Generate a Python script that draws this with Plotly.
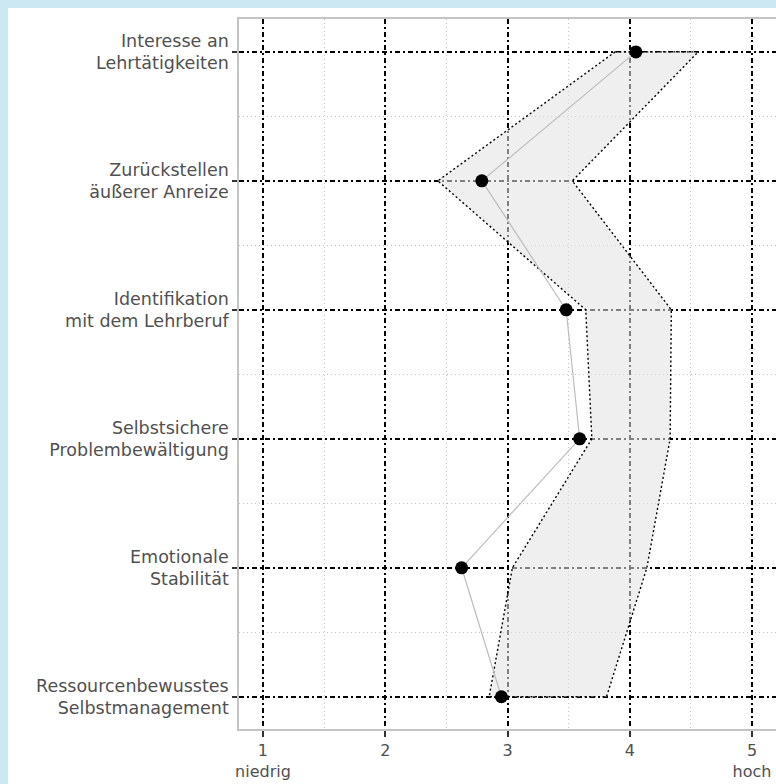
import plotly.graph_objects as go

# ---- data ----
categories = [
    "Interesse an<br>Lehrtätigkeiten",
    "Zurückstellen<br>äußerer Anreize",
    "Identifikation<br>mit dem Lehrberuf",
    "Selbstsichere<br>Problembewältigung",
    "Emotionale<br>Stabilität",
    "Ressourcenbewusstes<br>Selbstmanagement",
]
positions = [1, 2, 3, 4, 5, 6]
person_values = [4.05, 2.79, 3.48, 3.59, 2.625, 2.95]
band_lower = [3.88, 2.43, 3.64, 3.69, 3.04, 2.85]
band_upper = [4.56, 3.53, 4.34, 4.33, 4.14, 3.81]
x_tickvals = [1, 2, 3, 4, 5]
x_ticktext = ["1<br>niedrig", "2", "3", "4", "5<br>hoch"]
minor_x = [1.5, 2.5, 3.5, 4.5]
minor_y = [1.5, 2.5, 3.5, 4.5, 5.5]

# ---- layout geometry (figure sits inside the page's 8px body margin) ----
W, H = 768, 776
ML, MR, MT, MB = 231, 0, 11, 55

font_family = "DejaVu Sans, Liberation Sans, Arial, sans-serif"
text_color = "#505050"
grid_dash = "5px,3px,2px,3px"
page_bg = "#cce8f2"

fig = go.Figure()

# band polygon
poly_x = band_lower + band_upper[::-1] + [band_lower[0]]
poly_y = positions + positions[::-1] + [positions[0]]
fig.add_trace(go.Scatter(
    x=poly_x, y=poly_y, mode="lines", fill="toself",
    fillcolor="rgba(226,226,226,0.56)",
    line=dict(color="black", width=1.4, dash="2px,2.5px"),
    hoverinfo="skip", showlegend=False,
))

# profile line
fig.add_trace(go.Scatter(
    x=person_values, y=positions, mode="lines",
    line=dict(color="#bdbdbd", width=1.2),
    showlegend=False,
))

# points
fig.add_trace(go.Scatter(
    x=person_values, y=positions, mode="markers",
    marker=dict(color="black", size=13),
    showlegend=False,
))

fig.update_layout(
    width=W, height=H,
    margin=dict(l=ML, r=MR, t=MT, b=MB, pad=0),
    paper_bgcolor="white",
    plot_bgcolor="white",
    font=dict(family=font_family, size=16, color=text_color),
    showlegend=False,
)

fig.update_xaxes(
    range=[0.804, 5.196],
    tickmode="array", tickvals=x_tickvals, ticktext=x_ticktext,
    showgrid=True, gridcolor="black", gridwidth=1.5, griddash=grid_dash,
    minor=dict(tickmode="array", tickvals=minor_x, showgrid=True,
               gridcolor="#c4c4c4", gridwidth=1, griddash="1px,3px", ticks=""),
    zeroline=False,
    showline=True, linecolor="#c4c4c4", linewidth=1.5, mirror=True,
    ticks="outside", ticklen=6, tickwidth=1.5, tickcolor="#333333",
    tickfont=dict(family=font_family, size=16, color=text_color),
)

fig.update_yaxes(
    range=[6.25, 0.745],
    tickmode="array", tickvals=positions, ticktext=categories,
    showgrid=True, gridcolor="black", gridwidth=1.5, griddash=grid_dash,
    minor=dict(tickmode="array", tickvals=minor_y, showgrid=True,
               gridcolor="#c4c4c4", gridwidth=1, griddash="1px,3px", ticks=""),
    zeroline=False,
    showline=True, linecolor="#c4c4c4", linewidth=1.5, mirror=False,
    ticks="outside", ticklen=5, tickwidth=1.5, tickcolor="#333333",
    tickfont=dict(family=font_family, size=17.5, color=text_color),
)

fig.write_html(
    "out.html",
    post_script=(
        "document.body.style.backgroundColor='" + page_bg + "';"
        "document.body.style.margin='8px 0 0 8px';"
        "document.body.style.overflow='hidden';"
    ),
)
